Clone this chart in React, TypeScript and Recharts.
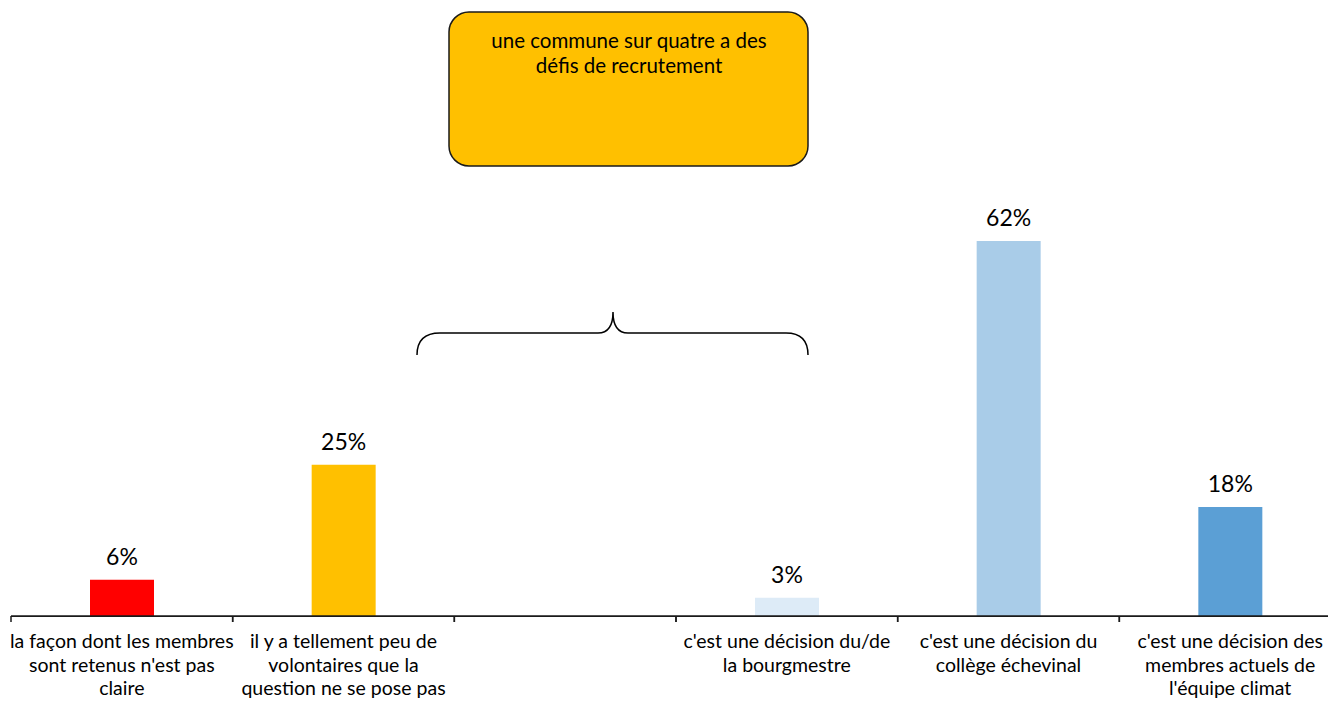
import React from "react";
import { BarChart, Bar, XAxis, YAxis, Cell, LabelList, Customized } from "recharts";

const categoryLines: string[][] = [
  ["la façon dont les membres", "sont retenus n'est pas", "claire"],
  ["il y a tellement peu de", "volontaires que la", "question ne se pose pas"],
  [],
  ["c'est une décision du/de", "la bourgmestre"],
  ["c'est une décision du", "collège échevinal"],
  ["c'est une décision des", "membres actuels de", "l'équipe climat"],
];
const values: (number | null)[] = [6, 25, null, 3, 62, 18];
const barColors = ["#FF0000", "#FFC000", "#FFFFFF", "#DDEBF7", "#A9CCE8", "#5B9FD5"];
const calloutLines = ["une commune sur quatre a des", "défis de recrutement"];

const data = categoryLines.map((lines, i) => ({
  name: String(i),
  lines,
  value: values[i],
}));

const FONT = "Lato, 'Noto Sans', sans-serif";

const Tick = (props: any) => {
  const { x, y, payload, index } = props;
  const off = payload && typeof payload.offset === "number" ? payload.offset : 1330 / 12;
  const lines = categoryLines[index] || [];
  const bx = x - off;
  return (
    <g>
      <line x1={bx} x2={bx} y1={y} y2={y + 6} stroke="#1a1a1a" strokeWidth={1.5} />
      <line x1={x + off} x2={x + off} y1={y} y2={y + 6} stroke="#1a1a1a" strokeWidth={1.5} />
      {lines.map((l, i) => (
        <text
          key={i}
          x={x}
          y={y + 32 + i * 23.5}
          textAnchor="middle"
          fontFamily={FONT}
          fontSize={19.5}
          fill="#000"
        >
          {l}
        </text>
      ))}
    </g>
  );
};

const Annotations = () => (
  <g>
    <rect x={449} y={12} width={359} height={154} rx={20} ry={20} fill="#FFC000" stroke="#1a1a1a" strokeWidth={1.5} />
    {calloutLines.map((l, i) => (
      <text key={i} x={629} y={48 + i * 25} textAnchor="middle" fontFamily={FONT} fontSize={20.5} fill="#000">
        {l}
      </text>
    ))}
    <path
      d="M417,355 Q417,333 440,333 L598,333 Q613,333 613,312 Q613,333 628,333 L786,333 Q808,333 808,355"
      fill="none"
      stroke="#000"
      strokeWidth={1.5}
    />
  </g>
);

export default function App() {
  return (
    <div style={{ position: "absolute", left: 0, top: 0, width: 1328, height: 703, overflow: "hidden", background: "#fff" }}>
      <BarChart
        width={1341}
        height={703}
        data={data}
        margin={{ top: 11, right: 0, bottom: 0, left: 11 }}
        barCategoryGap={0}
      >
        <XAxis
          dataKey="name"
          height={87}
          interval={0}
          tickLine={false}
          tickSize={0}
          tickMargin={0}
          axisLine={{ stroke: "#1a1a1a", strokeWidth: 1.75 }}
          tick={<Tick />}
        />
        <YAxis hide domain={[0, 100]} />
        <Bar dataKey="value" barSize={64} isAnimationActive={false}>
          {data.map((d, i) => (
            <Cell key={i} fill={barColors[i]} />
          ))}
          <LabelList
            dataKey="value"
            position="top"
            offset={15}
            formatter={(v: any) => (v == null ? "" : `${v}%`)}
            style={{ fontFamily: FONT, fontSize: 23, fill: "#000" }}
          />
        </Bar>
        <Customized component={Annotations} />
      </BarChart>
    </div>
  );
}
